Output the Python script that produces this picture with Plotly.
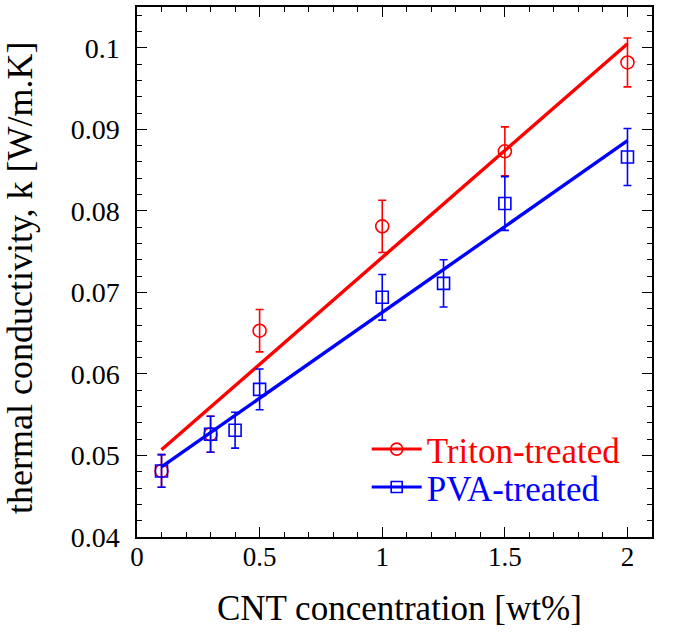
import plotly.graph_objects as go

# ---- data ----
triton_x = [0.1, 0.3, 0.5, 1.0, 1.5, 2.0]
triton_k = [0.0481, 0.0526, 0.0653, 0.0781, 0.0873, 0.0982]
triton_err = [0.0020, 0.0022, 0.0026, 0.0032, 0.0030, 0.0030]

pva_x = [0.1, 0.3, 0.4, 0.5, 1.0, 1.25, 1.5, 2.0]
pva_k = [0.0481, 0.0526, 0.0531, 0.0581, 0.0694, 0.0711, 0.0809, 0.0866]
pva_err = [0.0020, 0.0022, 0.0022, 0.0025, 0.0028, 0.0029, 0.0033, 0.0035]

triton_fit_x = [0.1, 2.0]
triton_fit_k = [0.0507, 0.1005]
pva_fit_x = [0.1, 2.0]
pva_fit_k = [0.0486, 0.0886]

x_ticks = [0, 0.5, 1, 1.5, 2]
x_ticklabels = ["0", "0.5", "1", "1.5", "2"]
y_ticks = [0.04, 0.05, 0.06, 0.07, 0.08, 0.09, 0.1]
y_ticklabels = ["0.04", "0.05", "0.06", "0.07", "0.08", "0.09", "0.1"]

x_title = "CNT concentration [wt%]"
y_title = "thermal conductivity, k [W/m.K]"

RED = "#ff0000"
BLUE = "#0000ff"
FONT = "Liberation Serif"

fig = go.Figure()

# Triton data (drawn first, under PVA)
fig.add_trace(go.Scatter(
    x=triton_x, y=triton_k, mode="markers", showlegend=False,
    marker=dict(symbol="circle-open", size=13, color=RED, line=dict(width=1.6, color=RED)),
    error_y=dict(type="data", array=triton_err, visible=True, color=RED, thickness=1.6, width=4),
))
fig.add_trace(go.Scatter(
    x=triton_fit_x, y=triton_fit_k, mode="lines", showlegend=False,
    line=dict(color=RED, width=3.4),
))
fig.add_trace(go.Scatter(
    x=pva_x, y=pva_k, mode="markers", showlegend=False,
    marker=dict(symbol="square-open", size=12, color=BLUE, line=dict(width=1.6, color=BLUE)),
    error_y=dict(type="data", array=pva_err, visible=True, color=BLUE, thickness=1.6, width=4),
))
fig.add_trace(go.Scatter(
    x=pva_fit_x, y=pva_fit_k, mode="lines", showlegend=False,
    line=dict(color=BLUE, width=3.4),
))

# legend entries
fig.add_trace(go.Scatter(
    x=[None], y=[None], mode="lines+markers", legend="legend",
    name='<span style="color:#ff0000">Triton-treated</span>',
    line=dict(color=RED, width=3),
    marker=dict(symbol="circle-open", size=12, color=RED, line=dict(width=1.6, color=RED)),
))
fig.add_trace(go.Scatter(
    x=[None], y=[None], mode="lines+markers", legend="legend2",
    name='<span style="color:#0000ff">PVA-treated</span>',
    line=dict(color=BLUE, width=3),
    marker=dict(symbol="square-open", size=11, color=BLUE, line=dict(width=1.6, color=BLUE)),
))

axis_common = dict(
    showline=True, linecolor="black", linewidth=1.5, mirror="allticks",
    ticks="inside", ticklen=10, tickwidth=1.3, tickcolor="black",
    showgrid=False, zeroline=False,
)

fig.update_xaxes(
    range=[0, 2.1], tickvals=x_ticks, ticktext=x_ticklabels,
    minor=dict(dtick=0.1, ticks="inside", ticklen=5, tickwidth=1.2, tickcolor="black", showgrid=False),
    tickfont=dict(family=FONT, size=27, color="black"),
    ticklabelstandoff=-5,
    **axis_common,
)
fig.update_yaxes(
    range=[0.04, 0.105], tickvals=y_ticks, ticktext=y_ticklabels,
    minor=dict(dtick=0.002, tick0=0.04, ticks="inside", ticklen=5, tickwidth=1.2, tickcolor="black", showgrid=False),
    tickfont=dict(family=FONT, size=28, color="black"),
    ticklabelstandoff=10,
    **axis_common,
)

# axis titles
fig.add_annotation(
    text=x_title, xref="paper", yref="paper", x=(399.5 - 137) / 515, y=(537 - 609) / 532,
    xanchor="center", yanchor="middle", showarrow=False,
    font=dict(family=FONT, size=35, color="black"),
)
fig.add_annotation(
    text=y_title, xref="paper", yref="paper", x=(20 - 137) / 515, y=(537 - 277) / 532,
    xanchor="center", yanchor="middle", showarrow=False, textangle=-90,
    font=dict(family=FONT, size=36, color="black"),
)

legend_common = dict(
    xanchor="left", yanchor="middle",
    bgcolor="rgba(0,0,0,0)", borderwidth=0,
    font=dict(family=FONT, size=35),
    itemwidth=50,
)

fig.update_layout(
    width=675, height=632,
    margin=dict(l=137, r=23, t=5, b=95, pad=0),
    plot_bgcolor="white", paper_bgcolor="white",
    font=dict(family=FONT, color="black"),
    legend=dict(x=0.446, y=(537 - 449) / 532, **legend_common),
    legend2=dict(x=0.446, y=(537 - 487) / 532, **legend_common),
)

fig.write_html("out.html", config={"displayModeBar": False},
               post_script="document.body.style.margin='0';")
